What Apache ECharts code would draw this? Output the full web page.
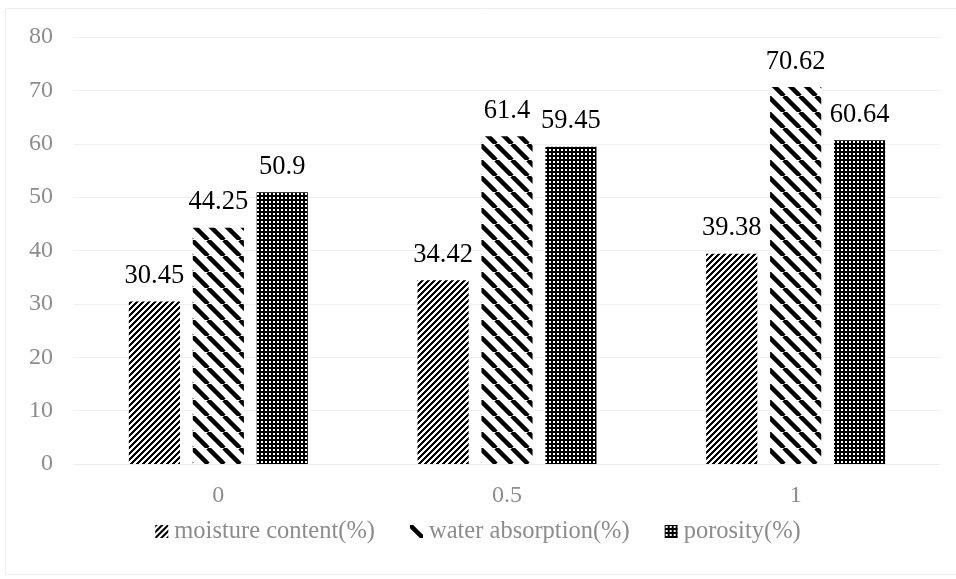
<!DOCTYPE html>
<html>
<head>
<meta charset="utf-8">
<script src="https://cdn.jsdelivr.net/npm/echarts@6/dist/echarts.min.js"></script>
<style>
  html, body { margin: 0; padding: 0; background: #fff; }
  #chart { width: 956px; height: 579px; }
</style>
</head>
<body>
<div id="chart"></div>
<script>
const categories = ['0', '0.5', '1'];
const moistureContent = [30.45, 34.42, 39.38];
const waterAbsorption = [44.25, 61.4, 70.62];
const porosity = [50.9, 59.45, 60.64];
const seriesNames = ['moisture content(%)', 'water absorption(%)', 'porosity(%)'];
const yTicks = [0, 10, 20, 30, 40, 50, 60, 70, 80];

// Fill patterns drawn on small tiles
function tile(w, h, draw) {
  const c = document.createElement('canvas');
  c.width = w; c.height = h;
  const g = c.getContext('2d');
  g.fillStyle = '#fff';
  g.fillRect(0, 0, w, h);
  draw(g, w, h);
  return { image: c, repeat: 'repeat' };
}

// dense forward-slash hatch, drawn pixel by pixel for crisp stripes
const hatchFwd = tile(6, 6, (g, w, h) => {
  g.fillStyle = '#000';
  for (let r = 0; r < h; r++) {
    const start = h - 1 - r;
    for (let k = 0; k < 3; k++) {
      g.fillRect((start + k) % w, r, 1, 1);
    }
  }
});

// wide back-slash hatch
const hatchBack = tile(16, 16, (g, w, h) => {
  g.strokeStyle = '#000';
  g.lineWidth = 4.5;
  for (let k = -1; k <= 1; k++) {
    g.beginPath();
    g.moveTo(k * w, 0);
    g.lineTo(k * w + w, h);
    g.stroke();
  }
});

// black grid with small white dots
const dotGrid = tile(4, 4, (g, w, h) => {
  g.fillStyle = '#000';
  g.fillRect(0, 0, w, h);
  g.fillStyle = '#fff';
  g.fillRect(1, 1, 2, 2);
});

const patterns = [hatchFwd, hatchBack, dotGrid];
const values = [moistureContent, waterAbsorption, porosity];
const FONT = '"Liberation Serif", "DejaVu Serif", serif';

const chart = echarts.init(document.getElementById('chart'), null, { renderer: 'canvas' });

chart.setOption({
  animation: false,
  backgroundColor: '#fff',
  graphic: [{
    type: 'rect',
    shape: { x: 5.5, y: 8.5, width: 960, height: 566 },
    style: { fill: 'none', stroke: '#eeeeee', lineWidth: 1 },
    silent: true
  }],
  grid: { left: 74, right: 16, top: 37, bottom: 115 },
  legend: {
    bottom: 30,
    left: 'center',
    itemWidth: 13,
    itemHeight: 13,
    itemGap: 35,
    icon: 'rect',
    textStyle: { color: '#8c8c8c', fontFamily: FONT, fontSize: 24.5, padding: [0, 0, 0, 1] },
    data: seriesNames
  },
  xAxis: {
    type: 'category',
    data: categories,
    axisLine: { lineStyle: { color: '#eeeeee', width: 1 } },
    axisTick: { show: false },
    axisLabel: { color: '#8c8c8c', fontFamily: FONT, fontSize: 24, margin: 20 }
  },
  yAxis: {
    type: 'value',
    min: yTicks[0],
    max: yTicks[yTicks.length - 1],
    interval: yTicks[1] - yTicks[0],
    axisLine: { show: false },
    axisTick: { show: false },
    splitLine: { lineStyle: { color: '#f0f0f0', width: 1 } },
    axisLabel: { color: '#8c8c8c', fontFamily: FONT, fontSize: 24, margin: 21 }
  },
  series: seriesNames.map((name, i) => ({
    name: name,
    type: 'bar',
    data: values[i],
    barGap: '25%',
    barCategoryGap: '38%',
    itemStyle: { color: patterns[i] },
    label: {
      show: true,
      position: 'top',
      distance: 12,
      color: '#000',
      fontFamily: FONT,
      fontSize: 26.5
    }
  }))
});
</script>
</body>
</html>
